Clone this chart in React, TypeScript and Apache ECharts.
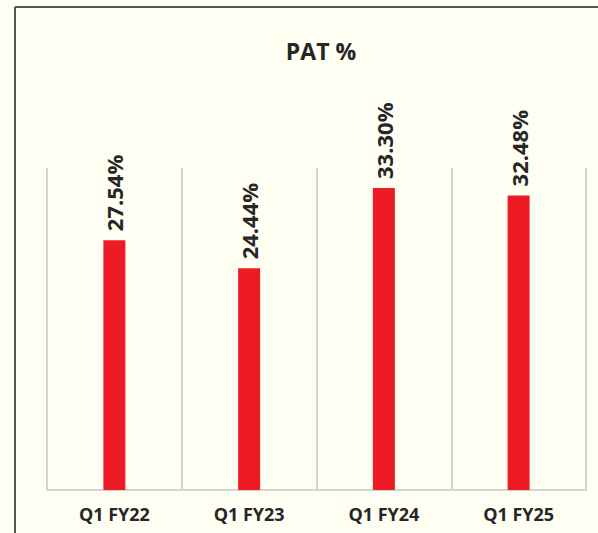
import React, { useEffect, useRef } from "react";
import * as echarts from "echarts";

const categories = ["Q1 FY22", "Q1 FY23", "Q1 FY24", "Q1 FY25"];
const patValues = [27.54, 24.44, 33.3, 32.48];
const titleText = "PAT %";

export default function App() {
  const ref = useRef<HTMLDivElement>(null);
  useEffect(() => {
    if (!ref.current) return;
    const chart = echarts.init(ref.current, null, { renderer: "svg" });
    chart.setOption({
      animation: false,
      backgroundColor: "#FEFEF3",
      title: {
        text: titleText,
        left: 316,
        textAlign: "center",
        top: 34,
        textStyle: { fontFamily: "Open Sans", fontWeight: "bold", fontSize: 23, color: "#262626" },
      },
      grid: { left: 47, right: 12, top: 168, bottom: 43 },
      xAxis: {
        type: "category",
        data: categories,
        boundaryGap: true,
        axisLine: { show: true, lineStyle: { color: "#D4D4D4", width: 2 } },
        axisTick: { show: false },
        splitLine: { show: true, lineStyle: { color: "#D4D4D4", width: 2 } },
        axisLabel: {
          interval: 0,
          margin: 15,
          fontFamily: "Open Sans",
          fontWeight: "bold",
          fontSize: 18,
          color: "#262626",
        },
      },
      yAxis: {
        type: "value",
        min: 0,
        max: 35.5,
        show: false,
        splitLine: { show: false },
      },
      series: [
        {
          type: "bar",
          data: patValues,
          barWidth: 22,
          itemStyle: { color: "#ED1C24" },
          label: {
            show: true,
            position: "top",
            rotate: 90,
            align: "left",
            verticalAlign: "middle",
            distance: 9,
            formatter: (p: any) => p.value.toFixed(2) + "%",
            fontFamily: "Open Sans",
            fontWeight: "bold",
            fontSize: 22,
            color: "#262626",
          },
        },
      ],
      graphic: [
        {
          type: "line",
          shape: { x1: 15, y1: 7, x2: 598, y2: 7 },
          style: { stroke: "#555555", lineWidth: 2 },
        },
        {
          type: "line",
          shape: { x1: 15, y1: 7, x2: 15, y2: 533 },
          style: { stroke: "#555555", lineWidth: 2 },
        },
      ],
    });
    return () => chart.dispose();
  }, []);
  return (
    <div
      ref={ref}
      style={{ position: "fixed", left: 0, top: 0, width: 598, height: 533 }}
    />
  );
}
